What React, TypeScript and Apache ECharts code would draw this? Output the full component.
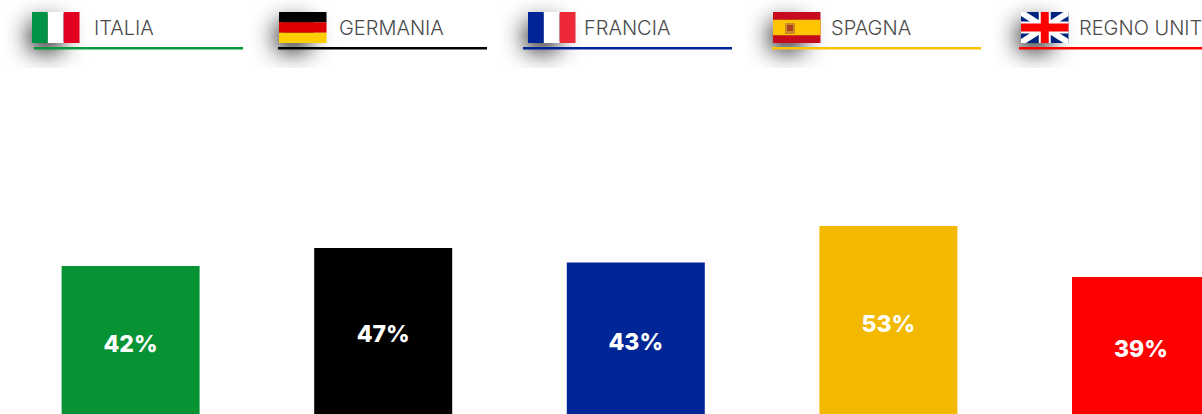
import React, { useEffect, useRef } from "react";
import * as echarts from "echarts";

const countries = ["ITALIA", "GERMANIA", "FRANCIA", "SPAGNA", "REGNO UNITO"];
const shares = [42, 47, 43, 53, 39];
const barColors = ["#079333", "#000000", "#002596", "#f2b900", "#ff0000"];
const ruleColors = ["#079a3c", "#000000", "#002596", "#fcc400", "#ff0000"];

const flagX = [32, 279, 528, 773, 1021];
const textX = [94, 339, 584, 831, 1079];
const ruleStart = [34, 278, 523, 772, 1019];
const FLAG_W = 47.5;
const FLAG_H = 31;
const FLAG_Y = 12;

function rect(x: number, y: number, w: number, h: number, fill: string) {
  return { type: "rect", shape: { x, y, width: w, height: h }, style: { fill }, silent: true };
}
function poly(points: number[][], fill: string) {
  return { type: "polygon", shape: { points }, style: { fill }, silent: true };
}

function flagParts(i: number, x: number) {
  const y = FLAG_Y, w = FLAG_W, h = FLAG_H;
  const third = w / 3;
  if (i === 0) return [rect(x, y, third, h, "#009246"), rect(x + third, y, third, h, "#ffffff"), rect(x + 2 * third, y, third, h, "#e1001f")];
  if (i === 1) return [rect(x, y, w, h / 3, "#000000"), rect(x, y + h / 3, w, h / 3, "#dd0000"), rect(x, y + (2 * h) / 3, w, h / 3, "#ffce00")];
  if (i === 2) return [rect(x, y, third, h, "#002395"), rect(x + third, y, third, h, "#ffffff"), rect(x + 2 * third, y, third, h, "#ed2939")];
  if (i === 3)
    return [
      rect(x, y, w, h, "#c60b1e"),
      rect(x, y + h / 4, w, h / 2, "#ffc400"),
      rect(x + 12, y + 11, 10, 11, "#c98a2a"),
      rect(x + 14, y + 13, 6, 6, "#b0401e"),
    ];
  const d = 5;
  return [
    rect(x, y, w, h, "#00247d"),
    poly([[x, y], [x + d, y], [x + w, y + h - 4], [x + w, y + h], [x + w - d, y + h], [x, y + 4]], "#ffffff"),
    poly([[x + w - d, y], [x + w, y], [x + w, y + 4], [x + d, y + h], [x, y + h], [x, y + h - 4]], "#ffffff"),
    rect(x + w / 2 - 6, y, 12, h, "#ffffff"),
    rect(x, y + h / 2 - 6, w, 12, "#ffffff"),
    rect(x + w / 2 - 4, y, 8, h, "#ff0000"),
    rect(x, y + h / 2 - 4, w, 8, "#ff0000"),
  ];
}

export default function App() {
  const ref = useRef<HTMLDivElement>(null);
  useEffect(() => {
    document.body.style.margin = "0";
    const chart = echarts.init(ref.current!, null, { renderer: "svg" });
    const graphics: any[] = [];
    countries.forEach((name, i) => {
      graphics.push({
        type: "rect",
        silent: true,
        shape: { x: flagX[i] + 3, y: FLAG_Y + 2, width: 32, height: 27 },
        style: { fill: "#333333", shadowBlur: 24, shadowColor: "rgba(0,0,0,1)", shadowOffsetX: -5, shadowOffsetY: 9 },
      });
    });
    countries.forEach((name, i) => {
      graphics.push(...flagParts(i, flagX[i]));
      graphics.push({
        type: "rect",
        silent: true,
        shape: { x: ruleStart[i], y: 47, width: 209, height: 2.5 },
        style: { fill: ruleColors[i] },
      });
      graphics.push({
        type: "text",
        silent: true,
        x: textX[i],
        y: 28,
        style: { text: name, fill: "#4a4a4a", font: '300 20px Inter, "Noto Sans", sans-serif', textVerticalAlign: "middle", textAlign: "left" },
      });
    });
    chart.setOption({
      animation: false,
      backgroundColor: "#ffffff",
      grid: { left: 4.3, top: 55, width: 1263, height: 364, containLabel: false },
      xAxis: { type: "category", data: countries, show: false },
      yAxis: { type: "value", min: 0, max: 100, show: false },
      series: [
        {
          type: "bar",
          barWidth: 138,
          data: shares.map((v, i) => ({ value: v, itemStyle: { color: barColors[i] } })),
          label: {
            show: true,
            position: "inside",
            offset: [0, 1],
            formatter: "{c}%",
            color: "#ffffff",
            fontFamily: "Inter, Lato, sans-serif",
            fontWeight: 800,
            fontSize: 23,
          },
        },
      ],
      graphic: graphics,
    });
    return () => chart.dispose();
  }, []);
  return (
    <div style={{ position: "absolute", left: 0, top: 0, width: 1202, height: 414, overflow: "hidden", background: "#fff" }}>
      <div ref={ref} style={{ width: 1300, height: 440 }} />
    </div>
  );
}
